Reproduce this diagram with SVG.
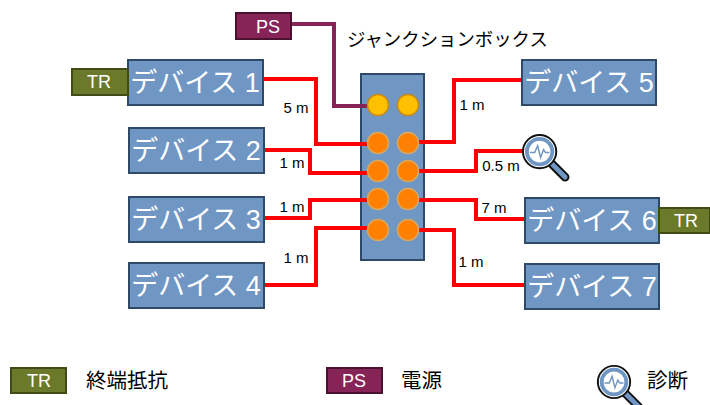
<svg xmlns="http://www.w3.org/2000/svg" width="710" height="405" viewBox="0 0 710 405">
<style>
text{font-family:"Liberation Sans","Noto Sans CJK JP",sans-serif}
.dev{fill:#7096c4;stroke:#2f4a69;stroke-width:2}
.devt{fill:#fff;font-size:27px;text-anchor:middle}
.tr{fill:#6b7a2a;stroke:#414b17;stroke-width:2}
.ps{fill:#862457;stroke:#4b1230;stroke-width:2}
.lt{fill:#fff;font-size:18px;text-anchor:middle}
.lbl{fill:#000;font-size:15px;text-anchor:middle}
.cap{fill:#000;font-size:20.5px}
.w{fill:none;stroke:#ff0000;stroke-width:4}
.p{fill:none;stroke:#862457;stroke-width:4}
.o{fill:#ff8000;stroke:#d9a860;stroke-width:1.5}
.y{fill:#ffc000;stroke:#c98a10;stroke-width:1.5}
</style>
<defs>
<g id="mag">
<path d="M31 31L46 46" stroke="#111" stroke-width="9" stroke-linecap="round"/>
<path d="M31 31L46 46" stroke="#7096c4" stroke-width="5" stroke-linecap="round"/>
<circle cx="20" cy="20" r="17" fill="#fff" stroke="#111" stroke-width="2"/>
<circle cx="20" cy="20" r="13" fill="#fff" stroke="#7096c4" stroke-width="4"/>
<path d="M10 21H15L18 14L21 26L24 18L26 21H30" fill="none" stroke="#7096c4" stroke-width="1.5"/>
</g>
</defs>
<g id="junction-box">
<rect x="361" y="74" width="63" height="186" class="dev"/>
</g>
<g id="connectors">
<path class="p" d="M292 24H334V106H368"/>
<path class="w" d="M263 79H316V144H368"/>
<path class="w" d="M263 150H310V173H368"/>
<path class="w" d="M263 218H310V200H368"/>
<path class="w" d="M263 285H316V228H368"/>
<path class="w" d="M418 142H454V80H521"/>
<path class="w" d="M418 171H476V151H524"/>
<path class="w" d="M418 200H476V219H524"/>
<path class="w" d="M418 230H454V285H524"/>
</g>
<g id="ports">
<circle cx="378" cy="105" r="10.5" class="y"/><circle cx="408" cy="105" r="10.5" class="y"/>
<circle cx="378" cy="143" r="10.5" class="o"/><circle cx="408" cy="143" r="10.5" class="o"/>
<circle cx="378" cy="171" r="10.5" class="o"/><circle cx="408" cy="171" r="10.5" class="o"/>
<circle cx="378" cy="199" r="10.5" class="o"/><circle cx="408" cy="199" r="10.5" class="o"/>
<circle cx="378" cy="230" r="10.5" class="o"/><circle cx="408" cy="230" r="10.5" class="o"/>
</g>
<text x="347" y="46" style="font-size:18.4px">ジャンクションボックス</text>
<g id="device1"><rect x="128" y="60" width="135" height="45" class="dev"/><text class="devt" x="195" y="92">デバイス 1</text></g>
<g id="device2"><rect x="129" y="128" width="135" height="45" class="dev"/><text class="devt" x="196" y="160">デバイス 2</text></g>
<g id="device3"><rect x="129" y="197" width="135" height="45" class="dev"/><text class="devt" x="196" y="229">デバイス 3</text></g>
<g id="device4"><rect x="129" y="263" width="135" height="45" class="dev"/><text class="devt" x="196" y="295">デバイス 4</text></g>
<g id="device5"><rect x="522" y="60" width="134" height="45" class="dev"/><text class="devt" x="589" y="92">デバイス 5</text></g>
<g id="device6"><rect x="525" y="198" width="134" height="45" class="dev"/><text class="devt" x="592" y="230">デバイス 6</text></g>
<g id="device7"><rect x="525" y="264" width="134" height="45" class="dev"/><text class="devt" x="592" y="296">デバイス 7</text></g>
<g id="ps"><rect x="236" y="13" width="55" height="26" class="ps"/><text class="lt" x="268" y="33">PS</text></g>
<g id="tr1"><rect x="72" y="69" width="56" height="26" class="tr"/><text class="lt" x="99" y="88">TR</text></g>
<g id="tr2"><rect x="659" y="208" width="51" height="25" class="tr"/><text class="lt" x="686" y="227">TR</text></g>
<g id="diagnostic"><use href="#mag" transform="translate(520 132) scale(.98)"/></g>
<text class="lbl" x="296" y="113">5 m</text>
<text class="lbl" x="292" y="168">1 m</text>
<text class="lbl" x="292" y="212">1 m</text>
<text class="lbl" x="296" y="263">1 m</text>
<text class="lbl" x="472" y="110">1 m</text>
<text class="lbl" x="501" y="171">0.5 m</text>
<text class="lbl" x="494" y="213">7 m</text>
<text class="lbl" x="471" y="267">1 m</text>
<g id="legend">
<rect x="11" y="368" width="55" height="25" class="tr"/><text class="lt" x="39" y="387">TR</text>
<text class="cap" x="86" y="388">終端抵抗</text>
<rect x="327" y="368" width="55" height="25" class="ps"/><text class="lt" x="354" y="387">PS</text>
<text class="cap" x="401" y="388">電源</text>
<use href="#mag" transform="translate(595 363) scale(.95)"/>
<text class="cap" x="647" y="388">診断</text>
</g>
</svg>
